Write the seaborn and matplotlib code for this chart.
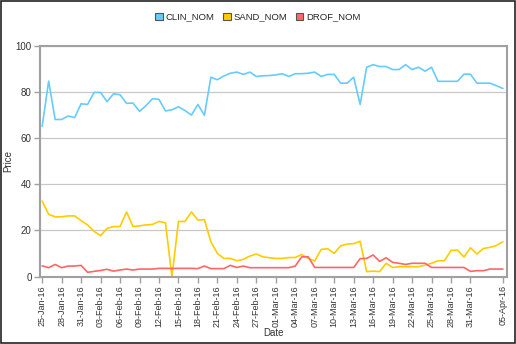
import numpy as np
import pandas as pd
import matplotlib
matplotlib.use("Agg")
import matplotlib.pyplot as plt
from matplotlib.patches import Patch, Rectangle
import seaborn as sns

dates = pd.date_range("2016-01-25", "2016-04-05", freq="D")

clin_nom = [65, 84.6, 68, 68, 69.5, 68.8, 74.8, 74.5, 79.7, 79.7, 75.7, 79.1, 78.7, 75, 75.1, 71.5,
            74, 77, 76.7, 71.7, 72.2, 73.5, 71.9, 69.9, 74.5, 69.8, 86.3, 85.2, 86.8, 88, 88.5, 87.5,
            88.5, 86.6, 86.9, 87, 87.3, 87.8, 86.6, 87.8, 87.8, 88, 88.5, 86.6, 87.5, 87.5, 83.7, 83.7,
            86.3, 74.5, 90.6, 91.7, 90.9, 90.9, 89.6, 89.6, 91.7, 89.6, 90.6, 88.9, 90.6, 84.5, 84.5,
            84.5, 84.5, 87.6, 87.6, 83.7, 83.7, 83.7, 82.6, 81.4]
sand_nom = [32.7, 27, 25.9, 25.9, 26.3, 26.3, 24.2, 22.4, 19.6, 17.7, 20.9, 21.7, 21.7, 28, 21.7, 22,
            22.4, 22.6, 23.9, 23.3, 0, 23.9, 23.9, 28, 24.5, 24.7, 15.1, 10.1, 7.9, 7.9, 6.9, 7.5,
            8.9, 9.8, 8.6, 8.2, 7.9, 7.9, 8.3, 8.3, 9.6, 7.9, 6.8, 11.8, 12.1, 10.1, 13.4, 14.1,
            14.3, 15.3, 2.2, 2.4, 2.2, 5.8, 4, 4.3, 4.3, 4.3, 4.3, 5, 5.8, 6.9, 6.9, 11.4, 11.5,
            8.5, 12.5, 9.8, 12.2, 12.7, 13.5, 15.1]
drof_nom = [4.7, 3.9, 5.3, 3.9, 4.6, 4.6, 4.9, 1.9, 2.3, 2.7, 3.2, 2.4, 2.9, 3.3, 2.9, 3.3,
            3.3, 3.3, 3.6, 3.6, 3.6, 3.6, 3.6, 3.6, 3.5, 4.6, 3.5, 3.5, 3.5, 4.9, 4.0, 4.6,
            3.9, 3.9, 3.9, 3.9, 3.9, 3.9, 3.9, 4.6, 8.6, 8.6, 4.0, 4.0, 4.0, 4.0, 4.0, 4.0,
            4.0, 7.8, 7.9, 9.4, 6.6, 8.2, 6.2, 5.8, 5.3, 5.8, 5.8, 5.8, 4.0, 4.0, 4.0, 4.0, 4.0,
            4.0, 2.3, 2.6, 2.6, 3.3, 3.3, 3.3]

series_names = ["CLIN_NOM", "SAND_NOM", "DROF_NOM"]
colors = ["#66CCFF", "#FFCC00", "#FF6666"]
yticks = [0, 20, 40, 60, 80, 100]
tick_dates = pd.to_datetime(["2016-01-25", "2016-01-28", "2016-01-31", "2016-02-03", "2016-02-06",
                             "2016-02-09", "2016-02-12", "2016-02-15", "2016-02-18", "2016-02-21",
                             "2016-02-24", "2016-02-27", "2016-03-01", "2016-03-04", "2016-03-07",
                             "2016-03-10", "2016-03-13", "2016-03-16", "2016-03-19", "2016-03-22",
                             "2016-03-25", "2016-03-28", "2016-03-31", "2016-04-05"])

df = pd.DataFrame({"Date": dates, "CLIN_NOM": clin_nom, "SAND_NOM": sand_nom, "DROF_NOM": drof_nom})
long = df.melt(id_vars="Date", var_name="Series", value_name="Price")

sns.set_style("white")
plt.rcParams["font.family"] = ["Liberation Sans", "DejaVu Sans"]

fig = plt.figure(figsize=(5.16, 3.44), dpi=100)
ax = fig.add_axes([40 / 516, 1 - 276.7 / 344, (506.7 - 40) / 516, (276.7 - 45.5) / 344])

sns.lineplot(data=long, x="Date", y="Price", hue="Series", hue_order=series_names,
             palette=colors, linewidth=1.2, ax=ax, legend=False)

ax.set_ylim(0, 100)
ax.set_yticks(yticks)
ax.set_yticklabels([str(v) for v in yticks], fontsize=7, color="#333333")
ax.set_xlim(dates[0] - pd.Timedelta(hours=8), dates[-1] + pd.Timedelta(hours=14))
ax.set_xticks(tick_dates)
ax.set_xticklabels([d.strftime("%d-%b-%y") for d in tick_dates], rotation=90, fontsize=6.5,
                   color="#333333")
ax.yaxis.grid(True, color="#C8C8C8", linewidth=0.9)
ax.set_axisbelow(True)
for s in ax.spines.values():
    s.set_color("#A0A0A0")
    s.set_linewidth(1.5)
ax.tick_params(axis="both", which="both", length=4, width=1, color="#A0A0A0", pad=2,
               bottom=True, left=True)
ax.set_ylabel("Price", fontsize=7, color="#333333")
ax.yaxis.set_label_coords(-0.058, 0.5)
ax.set_xlabel("Date", fontsize=7, color="#333333")
ax.xaxis.set_label_coords(0.5, -0.22)

handles = [Patch(facecolor=c, edgecolor="#555555", linewidth=0.8) for c in colors]
fig.legend(handles, series_names, loc="center", bbox_to_anchor=(0.5, 1 - 17 / 344), ncol=3,
           frameon=False, fontsize=6.8, handlelength=0.8, handleheight=0.8, handletextpad=0.3,
           columnspacing=0.9)

fig.patches.append(Rectangle((0.001, 0.002), 0.997, 0.996, transform=fig.transFigure,
                             fill=False, edgecolor="#222222", linewidth=1.2))

fig.savefig("out.png", dpi=100)
